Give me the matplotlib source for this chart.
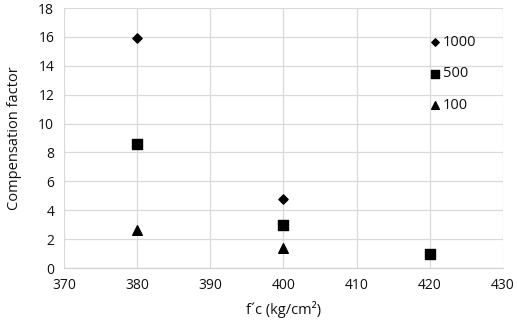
import matplotlib
matplotlib.use("Agg")
import matplotlib.pyplot as plt

series_names = ["1000", "500", "100"]
x_1000 = [380, 400]
y_1000 = [15.9, 4.8]
x_500 = [380, 400, 420]
y_500 = [8.6, 3.0, 1.0]
x_100 = [380, 400]
y_100 = [2.6, 1.4]

plt.rcParams['font.family'] = ['Open Sans', 'DejaVu Sans']
fig = plt.figure(figsize=(5.17, 3.21), dpi=100)
ax = fig.add_axes([64/517, 1 - 268/321, (503-64)/517, (268-8)/321])

ax.scatter(x_1000, y_1000, marker='D', s=22, color='black', label=series_names[0], zorder=3)
ax.scatter(x_500, y_500, marker='s', s=50, color='black', label=series_names[1], zorder=3)
ax.scatter(x_100, y_100, marker='^', s=48, color='black', label=series_names[2], zorder=3)

ax.set_xlim(370, 430)
ax.set_ylim(0, 18)
ax.set_xticks(range(370, 431, 10))
ax.set_yticks(range(0, 19, 2))
ax.grid(True, color='#d9d9d9', linewidth=0.9)
ax.set_axisbelow(True)
for s in ax.spines.values():
    s.set_visible(False)
ax.spines['bottom'].set_visible(True)
ax.spines['bottom'].set_color('#d0d0d0')
ax.tick_params(length=0, labelsize=10, colors='#111111', pad=7)
ax.set_xlabel("f´c (kg/cm²)", fontsize=10.5, color='#111111', labelpad=6)
ax.set_ylabel("Compensation factor", fontsize=10.5, color='#111111', labelpad=12)

leg = ax.legend(loc='upper left', bbox_to_anchor=(0.815, 0.92), frameon=False,
                fontsize=10.5, handletextpad=0.05, labelspacing=1.15, markerscale=0.8,
                handlelength=1.0, borderaxespad=0)
for t in leg.get_texts():
    t.set_color('#111111')

fig.savefig("out.png", dpi=100)
